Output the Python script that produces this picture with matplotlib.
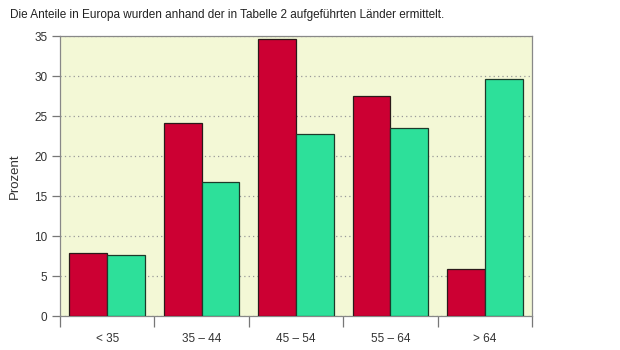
import numpy as np
import matplotlib.pyplot as plt

plt.rcParams['font.family'] = ['Liberation Sans Narrow', 'Liberation Sans', 'DejaVu Sans']

# Altersklassen und Anteile (Prozent)
kategorien = ['< 35', '35 – 44', '45 – 54', '55 – 64', '> 64']
werte_rot = [7.9, 24.1, 34.6, 27.5, 5.9]
werte_gruen = [7.6, 16.7, 22.7, 23.5, 29.6]

farbe_rot = '#CC0033'
farbe_gruen = '#2DE09A'
hintergrund = '#F3F8D6'

fig = plt.figure(figsize=(6.2, 3.5), dpi=100)
ax = fig.add_axes([0.0968, 0.0971, 0.7613, 0.8])
ax.set_facecolor(hintergrund)

x = np.arange(len(kategorien))
breite = 0.4
ax.bar(x - breite/2, werte_rot, breite, color=farbe_rot, edgecolor='#2a1a1a', linewidth=0.9, zorder=3)
ax.bar(x + breite/2, werte_gruen, breite, color=farbe_gruen, edgecolor='#1d3a2a', linewidth=0.9, zorder=3)

ax.set_xlim(-0.5, len(kategorien) - 0.5)
ax.set_ylim(0, 35)
ax.set_yticks(np.arange(0, 36, 5))

# Gitterlinien gepunktet
ax.yaxis.grid(True, linestyle=(0, (1, 2.5)), color='#999999', linewidth=0.9, zorder=1)
ax.set_axisbelow(True)

# Ticks an den Klassengrenzen, Labels in der Mitte
ax.set_xticks(np.arange(len(kategorien) + 1) - 0.5)
ax.set_xticklabels([])
ax.set_xticks(x, minor=True)
ax.set_xticklabels(kategorien, minor=True, fontsize=8.5, color='#333333')
ax.tick_params(axis='x', which='major', length=8, width=0.9, color='#777777', direction='out')
ax.tick_params(axis='x', which='minor', length=0, pad=12)
ax.tick_params(axis='y', length=6, width=0.9, color='#777777', labelsize=8.5, labelcolor='#333333', pad=3)

for s in ax.spines.values():
    s.set_color('#888888')
    s.set_linewidth(0.9)

ax.set_ylabel('Prozent', fontsize=9.5, color='#333333', labelpad=10)

fig.text(0.016, 0.958, 'Die Anteile in Europa wurden anhand der in Tabelle 2 aufgeführten Länder ermittelt.',
         fontsize=8.5, color='#222222', va='center')

fig.savefig('out.png', dpi=100, facecolor='white')
